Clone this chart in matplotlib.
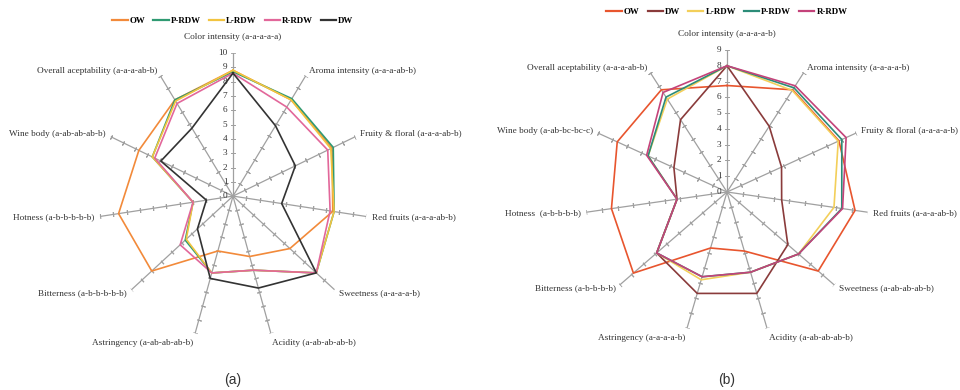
import numpy as np
import matplotlib.pyplot as plt

plt.rcParams['font.family'] = ['Liberation Serif', 'DejaVu Serif']

# --- sensory panel (a) ---
labels_a = ['Color intensity (a-a-a-a-a)', 'Aroma intensity (a-a-a-ab-b)',
            'Fruity & floral (a-a-a-ab-b)', 'Red fruits (a-a-a-ab-b)',
            'Sweetness (a-a-a-a-b)', 'Acidity (a-ab-ab-ab-b)',
            'Astringency (a-ab-ab-ab-b)', 'Bitterness (a-b-b-b-b-b)',
            'Hotness (a-b-b-b-b-b)', 'Wine body (a-ab-ab-ab-b)',
            'Overall aceptability (a-a-a-ab-b)']
ow_a = [8.8, 8.0, 8.1, 7.5, 5.6, 4.4, 4.0, 8.0, 8.6, 7.7, 8.0]
prdw_a = [8.7, 8.1, 8.2, 7.6, 8.2, 5.4, 5.6, 4.7, 3.0, 6.6, 8.0]
lrdw_a = [8.8, 8.0, 8.0, 7.6, 8.2, 5.4, 5.6, 4.6, 3.0, 6.6, 7.9]
rrdw_a = [8.6, 7.4, 7.75, 7.3, 8.2, 5.4, 5.6, 5.2, 3.0, 6.4, 7.7]
dw_a = [8.6, 5.85, 5.1, 3.66, 8.2, 6.7, 6.0, 3.5, 2.0, 5.9, 5.65]

# --- sensory panel (b) ---
labels_b = ['Color intensity (a-a-a-a-b)', 'Aroma intensity (a-a-a-a-b)',
            'Fruity & floral (a-a-a-a-b)', 'Red fruits (a-a-a-ab-b)',
            'Sweetness (a-ab-ab-ab-b)', 'Acidity (a-ab-ab-ab-b)',
            'Astringency (a-a-a-a-b)', 'Bitterness (a-b-b-b-b)',
            'Hotness  (a-b-b-b-b)', 'Wine body (a-ab-bc-bc-c)',
            'Overall aceptability (a-a-a-ab-b)']
ow_b = [6.75, 7.7, 7.8, 8.2, 7.65, 3.9, 3.7, 7.85, 7.4, 7.65, 7.7]
dw_b = [8.0, 4.95, 3.8, 3.5, 5.1, 6.7, 6.7, 5.9, 3.2, 3.7, 5.45]
lrdw_b = [8.0, 7.65, 7.75, 6.85, 6.0, 5.3, 5.8, 5.9, 3.2, 5.5, 7.0]
prdw_b = [8.0, 7.85, 8.0, 7.35, 6.0, 5.3, 5.6, 5.9, 3.2, 5.5, 7.15]
rrdw_b = [8.0, 8.0, 8.3, 7.4, 6.0, 5.3, 5.6, 5.9, 3.2, 5.6, 7.5]

series_a = [('OW', ow_a, '#f28a3a'), ('P-RDW', prdw_a, '#2f9a72'),
            ('L-RDW', lrdw_a, '#f2c440'), ('R-RDW', rrdw_a, '#e2679a'),
            ('DW', dw_a, '#333333')]
series_b = [('OW', ow_b, '#e8552e'), ('DW', dw_b, '#8a3b3b'),
            ('L-RDW', lrdw_b, '#f3cf5a'), ('P-RDW', prdw_b, '#2c8c78'),
            ('R-RDW', rrdw_b, '#c4437a')]

AXIS_GREY = '#a0a0a0'
TXT = 6.7


def spider(ax, labels, series, rmax, legend_y):
    n = len(labels)
    theta = np.arange(n) * 2 * np.pi / n
    ax.set_theta_zero_location('N')
    ax.set_theta_direction(-1)
    ax.set_ylim(0, rmax)
    ax.grid(False)
    ax.set_xticks([])
    ax.set_yticks([])
    ax.spines['polar'].set_visible(False)

    # spokes with small perpendicular ticks
    rr = np.arange(1, rmax + 1)
    for i, t in enumerate(theta):
        ax.plot([t, t], [0, rmax], color=AXIS_GREY, lw=0.9, zorder=1)
        ang = 90 - np.degrees(t)
        ax.plot(np.full(len(rr), t), rr, ls='none', marker=(2, 2, ang),
                ms=3.2, mec=AXIS_GREY, mew=0.7, zorder=1)

        s, c = np.sin(t), np.cos(t)
        ha = 'left' if s > 0.1 else ('right' if s < -0.1 else 'center')
        va = 'bottom' if c > 0.9 else ('top' if c < -0.9 else 'center')
        off = 9 if c > 0.9 else 4
        ax.annotate(labels[i], (t, rmax), xytext=(off * s, off * c),
                    textcoords='offset points', ha=ha, va=va,
                    fontsize=TXT, color='#333333')

    # scale numbers along the top spoke
    for v in range(0, rmax + 1):
        ax.annotate(str(v), (0, v), xytext=(-4, 0), textcoords='offset points',
                    ha='right', va='center', fontsize=TXT, color='#333333')

    for name, vals, col in series:
        ax.plot(np.append(theta, theta[0]), np.append(vals, vals[0]),
                color=col, lw=1.2, label=name, zorder=3)

    leg = ax.legend(loc='lower center', bbox_to_anchor=(0.5, legend_y), ncol=5,
                    frameon=False, handlelength=1.7, columnspacing=0.9,
                    handletextpad=0.25, prop={'size': 6.4, 'weight': 'bold'})
    for line in leg.get_lines():
        line.set_linewidth(1.6)


fig = plt.figure(figsize=(9.6, 3.9), dpi=100)
# panel (a) is drawn slightly narrower than tall
ax_a = fig.add_axes([0.1027, 0.1305, 0.280, 0.7333], projection='polar')
ax_a.set_aspect('auto')
ax_b = fig.add_axes([0.6094, 0.1436, 0.2958, 0.7282], projection='polar')

spider(ax_a, labels_a, series_a, 10, 1.07)
spider(ax_b, labels_b, series_b, 9, 1.09)

fig.text(0.2427, 0.025, '(a)', ha='center', va='center', fontsize=10,
         family='Liberation Sans', color='#333333')
fig.text(0.7573, 0.025, '(b)', ha='center', va='center', fontsize=10,
         family='Liberation Sans', color='#333333')

fig.savefig('out.png', dpi=100, facecolor='white')
